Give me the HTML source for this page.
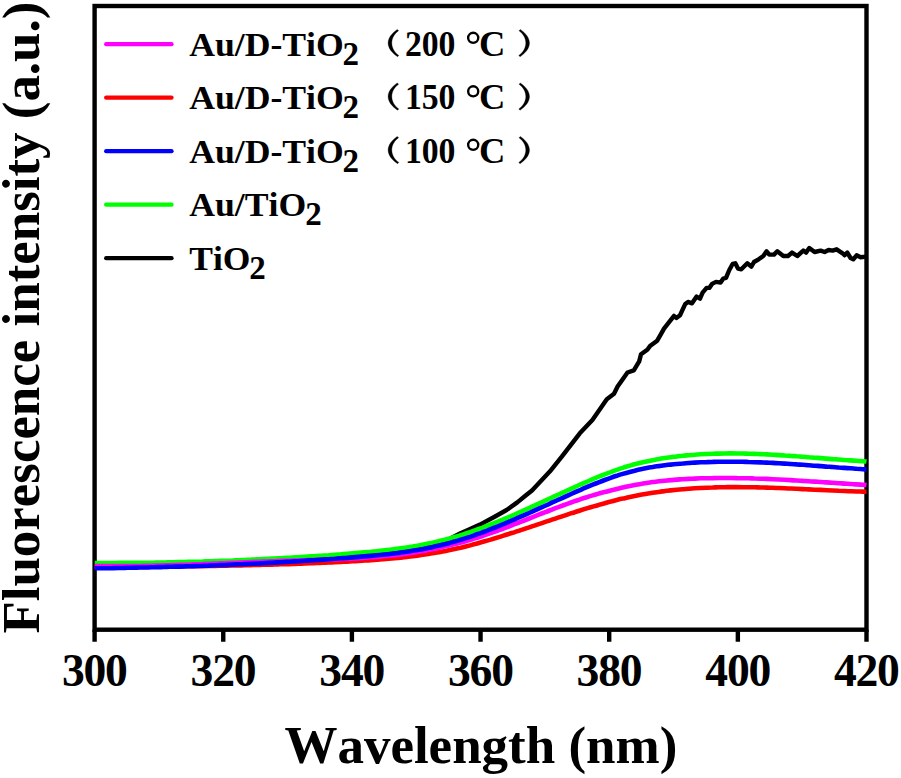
<!DOCTYPE html>
<html>
<head>
<meta charset="utf-8">
<title>Fluorescence spectra</title>
<style>
html,body{margin:0;padding:0;background:#fff;}
body{width:901px;height:778px;overflow:hidden;font-family:"Liberation Serif",serif;}
svg{display:block;position:absolute;left:0;top:0;}
text{font-family:"Liberation Serif",serif;font-weight:bold;fill:#000;font-kerning:none;}
.c{fill:none;stroke-width:4.6;stroke-linejoin:round;stroke-linecap:butt;}
.lg{fill:none;stroke-width:4.3;stroke-linecap:round;}
.ax{fill:none;stroke:#000;stroke-width:4.4;}
.leg{font-size:34.5px;}
.tick{font-size:45.6px;text-anchor:middle;letter-spacing:-1.2px;}
.par{fill:none;stroke:#000;stroke-width:1.9;stroke-linecap:round;}
</style>
</head>
<body>
<svg width="901" height="778" viewBox="0 0 901 778">
<rect x="0" y="0" width="901" height="778" fill="#fff"/>
<!-- frame -->
<rect class="ax" x="94.6" y="6" width="771.9" height="623.7"/>
<!-- ticks -->
<g class="ax">
<path d="M94.6 629.7V641.8M223.25 629.7V641.8M351.9 629.7V641.8M480.55 629.7V641.8M609.2 629.7V641.8M737.85 629.7V641.8M866.5 629.7V641.8"/>
</g>
<!-- curves -->
<path class="c" stroke="#000000" style="stroke-width:4.4" d="M94.7 566.5 C110.6 566.2 157.4 566.0 190.0 565.0 C222.6 564.0 263.3 562.0 290.0 560.5 C316.7 559.0 330.0 557.9 350.0 556.0 C370.0 554.1 395.0 551.2 410.0 549.0 C425.0 546.8 431.7 545.4 440.0 542.8 C448.3 540.2 453.3 536.6 460.0 533.6 C466.7 530.6 476.7 526.1 480.0 524.6 L496.0 516.0 L506.6 510.0 L517.3 502.4 L526.0 495.3 L532.0 490.5 L550.0 471.3 L561.8 456.7 L579.8 433.3 L592.4 419.9 L606.8 399.2 L614.0 393.8 L617.6 386.6 L627.5 372.5 L633.8 370.4 L639.2 361.4 L641.0 354.2 L647.3 349.7 L650.0 346.1 L657.2 340.7 L660.8 334.4 L664.0 328.6 L669.3 321.9 L674.0 315.9 L676.6 317.9 L680.0 315.2 L685.3 303.9 L688.0 301.9 L692.0 303.3 L696.6 296.6 L700.0 298.6 L702.6 292.6 L706.6 287.9 L709.3 287.9 L712.0 283.9 L716.0 281.9 L720.6 282.6 L723.3 278.6 L726.0 277.9 L729.3 270.0 L732.6 264.0 L735.3 263.3 L738.0 268.6 L741.3 269.3 L747.3 263.3 L751.3 266.6 L754.0 262.0 L758.6 259.3 L763.3 256.0 L766.6 251.3 L769.3 254.6 L774.0 254.6 L777.3 251.3 L783.3 256.0 L788.0 256.0 L792.0 252.6 L797.3 256.0 L803.3 250.6 L806.0 252.6 L809.3 248.0 L814.6 252.0 L820.6 250.6 L824.6 252.0 L828.6 250.0 L832.6 250.6 L836.6 249.3 L842.6 253.3 L844.6 255.3 L847.3 252.6 L850.6 258.0 L853.3 259.3 L856.6 255.3 L860.6 257.3 L866.5 256.6"/>
<path class="c" stroke="#00ff00" d="M94.7 563.0 C95.7 563.0 98.7 563.0 100.7 563.0 C102.7 563.0 104.7 563.0 106.7 563.0 C108.7 563.0 110.7 563.0 112.7 563.0 C114.7 563.0 116.7 562.9 118.7 562.9 C120.7 562.9 122.7 562.9 124.7 562.9 C126.7 562.9 128.7 562.9 130.7 562.9 C132.7 562.8 134.7 562.8 136.7 562.8 C138.7 562.8 140.7 562.8 142.7 562.7 C144.7 562.7 146.7 562.7 148.7 562.7 C150.7 562.6 152.7 562.6 154.7 562.6 C156.7 562.5 158.7 562.5 160.7 562.5 C162.7 562.4 164.7 562.4 166.7 562.4 C168.7 562.3 170.7 562.3 172.7 562.2 C174.7 562.2 176.7 562.2 178.7 562.1 C180.7 562.1 182.7 562.0 184.7 562.0 C186.7 561.9 188.7 561.9 190.7 561.8 C192.7 561.8 194.7 561.7 196.7 561.7 C198.7 561.6 200.7 561.5 202.7 561.5 C204.7 561.4 206.7 561.4 208.7 561.3 C210.7 561.2 212.7 561.2 214.7 561.1 C216.7 561.0 218.7 561.0 220.7 560.9 C222.7 560.8 224.7 560.8 226.7 560.7 C228.7 560.6 230.7 560.5 232.7 560.5 C234.7 560.4 236.7 560.3 238.7 560.2 C240.7 560.1 242.7 560.1 244.7 560.0 C246.7 559.9 248.7 559.8 250.7 559.7 C252.7 559.6 254.7 559.5 256.7 559.4 C258.7 559.3 260.7 559.2 262.7 559.1 C264.7 559.0 266.7 558.9 268.7 558.8 C270.7 558.7 272.7 558.6 274.7 558.5 C276.7 558.4 278.7 558.3 280.7 558.2 C282.7 558.1 284.7 558.0 286.7 557.9 C288.7 557.8 290.7 557.6 292.7 557.5 C294.7 557.4 296.7 557.3 298.7 557.2 C300.7 557.0 302.7 556.9 304.7 556.8 C306.7 556.7 308.7 556.5 310.7 556.4 C312.7 556.3 314.7 556.1 316.7 556.0 C318.7 555.9 320.7 555.7 322.7 555.6 C324.7 555.4 326.7 555.3 328.7 555.2 C330.7 555.0 332.7 554.9 334.7 554.7 C336.7 554.6 338.7 554.4 340.7 554.3 C342.7 554.1 344.7 554.0 346.7 553.8 C348.7 553.6 350.7 553.5 352.7 553.3 C354.7 553.2 356.7 553.0 358.7 552.8 C360.7 552.7 362.7 552.5 364.7 552.3 C366.7 552.1 368.7 551.9 370.7 551.8 C372.7 551.6 374.7 551.4 376.7 551.2 C378.7 551.0 380.7 550.8 382.7 550.5 C384.7 550.3 386.7 550.1 388.7 549.9 C390.7 549.6 392.7 549.4 394.7 549.1 C396.7 548.9 398.7 548.6 400.7 548.3 C402.7 548.0 404.7 547.7 406.7 547.4 C408.7 547.1 410.7 546.8 412.7 546.5 C414.7 546.1 416.7 545.8 418.7 545.4 C420.7 545.1 422.7 544.7 424.7 544.3 C426.7 543.9 428.7 543.5 430.7 543.1 C432.7 542.6 434.7 542.2 436.7 541.7 C438.7 541.3 440.7 540.8 442.7 540.3 C444.7 539.8 446.7 539.2 448.7 538.7 C450.7 538.2 452.7 537.6 454.7 537.0 C456.7 536.4 458.7 535.8 460.7 535.2 C462.7 534.6 464.7 533.9 466.7 533.2 C468.7 532.6 470.7 531.9 472.7 531.2 C474.7 530.5 476.7 529.8 478.7 529.0 C480.7 528.3 482.7 527.6 484.7 526.8 C486.7 526.1 488.7 525.3 490.7 524.5 C492.7 523.7 494.7 522.9 496.7 522.1 C498.7 521.3 500.7 520.4 502.7 519.6 C504.7 518.8 506.7 517.9 508.7 517.1 C510.7 516.2 512.7 515.4 514.7 514.5 C516.7 513.6 518.7 512.7 520.7 511.8 C522.7 511.0 524.7 510.1 526.7 509.2 C528.7 508.3 530.7 507.3 532.7 506.4 C534.7 505.5 536.7 504.6 538.7 503.7 C540.7 502.8 542.7 501.9 544.7 500.9 C546.7 500.0 548.7 499.1 550.7 498.2 C552.7 497.2 554.7 496.3 556.7 495.4 C558.7 494.5 560.7 493.5 562.7 492.6 C564.7 491.7 566.7 490.8 568.7 489.8 C570.7 488.9 572.7 488.0 574.7 487.1 C576.7 486.2 578.7 485.3 580.7 484.4 C582.7 483.5 584.7 482.6 586.7 481.8 C588.7 480.9 590.7 480.1 592.7 479.2 C594.7 478.4 596.7 477.5 598.7 476.7 C600.7 475.9 602.7 475.1 604.7 474.3 C606.7 473.6 608.7 472.8 610.7 472.1 C612.7 471.3 614.7 470.6 616.7 469.9 C618.7 469.2 620.7 468.5 622.7 467.9 C624.7 467.2 626.7 466.6 628.7 466.0 C630.7 465.4 632.7 464.9 634.7 464.3 C636.7 463.8 638.7 463.3 640.7 462.8 C642.7 462.3 644.7 461.9 646.7 461.4 C648.7 461.0 650.7 460.6 652.7 460.2 C654.7 459.8 656.7 459.4 658.7 459.1 C660.7 458.7 662.7 458.4 664.7 458.1 C666.7 457.8 668.7 457.5 670.7 457.2 C672.7 456.9 674.7 456.7 676.7 456.4 C678.7 456.2 680.7 456.0 682.7 455.8 C684.7 455.5 686.7 455.4 688.7 455.2 C690.7 455.0 692.7 454.8 694.7 454.7 C696.7 454.5 698.7 454.4 700.7 454.3 C702.7 454.2 704.7 454.1 706.7 454.0 C708.7 453.9 710.7 453.8 712.7 453.7 C714.7 453.7 716.7 453.6 718.7 453.6 C720.7 453.5 722.7 453.5 724.7 453.5 C726.7 453.4 728.7 453.4 730.7 453.4 C732.7 453.4 734.7 453.4 736.7 453.5 C738.7 453.5 740.7 453.5 742.7 453.5 C744.7 453.6 746.7 453.6 748.7 453.7 C750.7 453.7 752.7 453.8 754.7 453.9 C756.7 454.0 758.7 454.0 760.7 454.1 C762.7 454.2 764.7 454.3 766.7 454.4 C768.7 454.5 770.7 454.6 772.7 454.7 C774.7 454.8 776.7 455.0 778.7 455.1 C780.7 455.2 782.7 455.3 784.7 455.5 C786.7 455.6 788.7 455.7 790.7 455.9 C792.7 456.0 794.7 456.1 796.7 456.3 C798.7 456.4 800.7 456.6 802.7 456.7 C804.7 456.9 806.7 457.0 808.7 457.2 C810.7 457.3 812.7 457.5 814.7 457.7 C816.7 457.8 818.7 458.0 820.7 458.1 C822.7 458.3 824.7 458.4 826.7 458.6 C828.7 458.8 830.7 458.9 832.7 459.1 C834.7 459.2 836.7 459.4 838.7 459.5 C840.7 459.7 842.7 459.8 844.7 460.0 C846.7 460.1 848.7 460.3 850.7 460.4 C852.7 460.6 854.7 460.7 856.7 460.8 C858.7 461.0 861.1 461.1 862.7 461.2 C864.3 461.3 865.9 461.4 866.5 461.5"/>
<path class="c" stroke="#ff0000" d="M94.7 567.5 C95.7 567.5 98.7 567.5 100.7 567.4 C102.7 567.4 104.7 567.4 106.7 567.3 C108.7 567.3 110.7 567.3 112.7 567.3 C114.7 567.2 116.7 567.2 118.7 567.2 C120.7 567.2 122.7 567.1 124.7 567.1 C126.7 567.1 128.7 567.0 130.7 567.0 C132.7 567.0 134.7 567.0 136.7 566.9 C138.7 566.9 140.7 566.9 142.7 566.9 C144.7 566.8 146.7 566.8 148.7 566.8 C150.7 566.8 152.7 566.7 154.7 566.7 C156.7 566.7 158.7 566.7 160.7 566.6 C162.7 566.6 164.7 566.6 166.7 566.6 C168.7 566.5 170.7 566.5 172.7 566.5 C174.7 566.5 176.7 566.4 178.7 566.4 C180.7 566.4 182.7 566.4 184.7 566.3 C186.7 566.3 188.7 566.3 190.7 566.2 C192.7 566.2 194.7 566.2 196.7 566.2 C198.7 566.1 200.7 566.1 202.7 566.1 C204.7 566.0 206.7 566.0 208.7 566.0 C210.7 565.9 212.7 565.9 214.7 565.9 C216.7 565.8 218.7 565.8 220.7 565.8 C222.7 565.7 224.7 565.7 226.7 565.6 C228.7 565.6 230.7 565.6 232.7 565.5 C234.7 565.5 236.7 565.4 238.7 565.4 C240.7 565.4 242.7 565.3 244.7 565.3 C246.7 565.2 248.7 565.2 250.7 565.1 C252.7 565.1 254.7 565.0 256.7 565.0 C258.7 564.9 260.7 564.9 262.7 564.8 C264.7 564.8 266.7 564.7 268.7 564.7 C270.7 564.6 272.7 564.6 274.7 564.5 C276.7 564.4 278.7 564.4 280.7 564.3 C282.7 564.3 284.7 564.2 286.7 564.1 C288.7 564.1 290.7 564.0 292.7 563.9 C294.7 563.9 296.7 563.8 298.7 563.7 C300.7 563.6 302.7 563.6 304.7 563.5 C306.7 563.4 308.7 563.3 310.7 563.3 C312.7 563.2 314.7 563.1 316.7 563.0 C318.7 562.9 320.7 562.8 322.7 562.7 C324.7 562.7 326.7 562.6 328.7 562.5 C330.7 562.4 332.7 562.3 334.7 562.2 C336.7 562.1 338.7 562.0 340.7 561.9 C342.7 561.8 344.7 561.7 346.7 561.6 C348.7 561.5 350.7 561.4 352.7 561.3 C354.7 561.1 356.7 561.0 358.7 560.9 C360.7 560.8 362.7 560.7 364.7 560.5 C366.7 560.4 368.7 560.3 370.7 560.1 C372.7 560.0 374.7 559.9 376.7 559.7 C378.7 559.6 380.7 559.4 382.7 559.3 C384.7 559.1 386.7 558.9 388.7 558.8 C390.7 558.6 392.7 558.4 394.7 558.2 C396.7 558.0 398.7 557.8 400.7 557.6 C402.7 557.4 404.7 557.2 406.7 556.9 C408.7 556.7 410.7 556.5 412.7 556.2 C414.7 556.0 416.7 555.7 418.7 555.4 C420.7 555.2 422.7 554.9 424.7 554.6 C426.7 554.3 428.7 554.0 430.7 553.6 C432.7 553.3 434.7 553.0 436.7 552.6 C438.7 552.3 440.7 551.9 442.7 551.5 C444.7 551.1 446.7 550.7 448.7 550.3 C450.7 549.9 452.7 549.5 454.7 549.0 C456.7 548.6 458.7 548.1 460.7 547.7 C462.7 547.2 464.7 546.7 466.7 546.2 C468.7 545.7 470.7 545.2 472.7 544.6 C474.7 544.1 476.7 543.6 478.7 543.0 C480.7 542.5 482.7 541.9 484.7 541.3 C486.7 540.8 488.7 540.2 490.7 539.6 C492.7 539.0 494.7 538.4 496.7 537.8 C498.7 537.2 500.7 536.5 502.7 535.9 C504.7 535.3 506.7 534.7 508.7 534.0 C510.7 533.4 512.7 532.7 514.7 532.1 C516.7 531.4 518.7 530.8 520.7 530.1 C522.7 529.5 524.7 528.8 526.7 528.1 C528.7 527.5 530.7 526.8 532.7 526.1 C534.7 525.5 536.7 524.8 538.7 524.1 C540.7 523.5 542.7 522.8 544.7 522.1 C546.7 521.4 548.7 520.8 550.7 520.1 C552.7 519.4 554.7 518.8 556.7 518.1 C558.7 517.4 560.7 516.8 562.7 516.1 C564.7 515.5 566.7 514.8 568.7 514.1 C570.7 513.5 572.7 512.8 574.7 512.2 C576.7 511.6 578.7 510.9 580.7 510.3 C582.7 509.7 584.7 509.1 586.7 508.4 C588.7 507.8 590.7 507.2 592.7 506.6 C594.7 506.0 596.7 505.4 598.7 504.9 C600.7 504.3 602.7 503.7 604.7 503.2 C606.7 502.6 608.7 502.1 610.7 501.6 C612.7 501.0 614.7 500.5 616.7 500.0 C618.7 499.5 620.7 499.0 622.7 498.6 C624.7 498.1 626.7 497.7 628.7 497.2 C630.7 496.8 632.7 496.4 634.7 496.0 C636.7 495.6 638.7 495.2 640.7 494.8 C642.7 494.4 644.7 494.1 646.7 493.7 C648.7 493.4 650.7 493.1 652.7 492.8 C654.7 492.5 656.7 492.2 658.7 491.9 C660.7 491.6 662.7 491.3 664.7 491.1 C666.7 490.8 668.7 490.6 670.7 490.4 C672.7 490.2 674.7 490.0 676.7 489.8 C678.7 489.6 680.7 489.4 682.7 489.2 C684.7 489.0 686.7 488.9 688.7 488.7 C690.7 488.6 692.7 488.4 694.7 488.3 C696.7 488.2 698.7 488.1 700.7 488.0 C702.7 487.9 704.7 487.8 706.7 487.7 C708.7 487.6 710.7 487.5 712.7 487.5 C714.7 487.4 716.7 487.4 718.7 487.3 C720.7 487.3 722.7 487.2 724.7 487.2 C726.7 487.2 728.7 487.1 730.7 487.1 C732.7 487.1 734.7 487.1 736.7 487.1 C738.7 487.1 740.7 487.1 742.7 487.2 C744.7 487.2 746.7 487.2 748.7 487.2 C750.7 487.3 752.7 487.3 754.7 487.3 C756.7 487.4 758.7 487.4 760.7 487.5 C762.7 487.5 764.7 487.6 766.7 487.6 C768.7 487.7 770.7 487.8 772.7 487.8 C774.7 487.9 776.7 488.0 778.7 488.0 C780.7 488.1 782.7 488.2 784.7 488.3 C786.7 488.4 788.7 488.5 790.7 488.5 C792.7 488.6 794.7 488.7 796.7 488.8 C798.7 488.9 800.7 489.0 802.7 489.1 C804.7 489.2 806.7 489.3 808.7 489.4 C810.7 489.5 812.7 489.6 814.7 489.7 C816.7 489.7 818.7 489.8 820.7 489.9 C822.7 490.0 824.7 490.1 826.7 490.2 C828.7 490.3 830.7 490.4 832.7 490.5 C834.7 490.6 836.7 490.7 838.7 490.8 C840.7 490.8 842.7 490.9 844.7 491.0 C846.7 491.1 848.7 491.2 850.7 491.2 C852.7 491.3 854.7 491.4 856.7 491.5 C858.7 491.5 861.1 491.6 862.7 491.6 C864.3 491.7 865.9 491.7 866.5 491.7"/>
<path class="c" stroke="#ff00ff" d="M94.7 566.0 C95.7 566.0 98.7 566.1 100.7 566.1 C102.7 566.1 104.7 566.1 106.7 566.1 C108.7 566.1 110.7 566.1 112.7 566.1 C114.7 566.1 116.7 566.1 118.7 566.1 C120.7 566.1 122.7 566.1 124.7 566.1 C126.7 566.1 128.7 566.1 130.7 566.1 C132.7 566.0 134.7 566.0 136.7 566.0 C138.7 565.9 140.7 565.9 142.7 565.9 C144.7 565.8 146.7 565.8 148.7 565.8 C150.7 565.7 152.7 565.7 154.7 565.6 C156.7 565.6 158.7 565.5 160.7 565.5 C162.7 565.4 164.7 565.4 166.7 565.3 C168.7 565.3 170.7 565.2 172.7 565.1 C174.7 565.1 176.7 565.0 178.7 564.9 C180.7 564.9 182.7 564.8 184.7 564.7 C186.7 564.7 188.7 564.6 190.7 564.5 C192.7 564.4 194.7 564.4 196.7 564.3 C198.7 564.2 200.7 564.1 202.7 564.1 C204.7 564.0 206.7 563.9 208.7 563.8 C210.7 563.7 212.7 563.7 214.7 563.6 C216.7 563.5 218.7 563.4 220.7 563.3 C222.7 563.2 224.7 563.2 226.7 563.1 C228.7 563.0 230.7 562.9 232.7 562.8 C234.7 562.7 236.7 562.7 238.7 562.6 C240.7 562.5 242.7 562.4 244.7 562.3 C246.7 562.2 248.7 562.2 250.7 562.1 C252.7 562.0 254.7 561.9 256.7 561.8 C258.7 561.8 260.7 561.7 262.7 561.6 C264.7 561.5 266.7 561.4 268.7 561.4 C270.7 561.3 272.7 561.2 274.7 561.2 C276.7 561.1 278.7 561.0 280.7 560.9 C282.7 560.9 284.7 560.8 286.7 560.7 C288.7 560.7 290.7 560.6 292.7 560.5 C294.7 560.5 296.7 560.4 298.7 560.4 C300.7 560.3 302.7 560.3 304.7 560.2 C306.7 560.1 308.7 560.1 310.7 560.0 C312.7 560.0 314.7 559.9 316.7 559.8 C318.7 559.8 320.7 559.7 322.7 559.7 C324.7 559.6 326.7 559.5 328.7 559.5 C330.7 559.4 332.7 559.3 334.7 559.3 C336.7 559.2 338.7 559.1 340.7 559.0 C342.7 558.9 344.7 558.8 346.7 558.8 C348.7 558.7 350.7 558.6 352.7 558.5 C354.7 558.3 356.7 558.2 358.7 558.1 C360.7 558.0 362.7 557.9 364.7 557.7 C366.7 557.6 368.7 557.5 370.7 557.3 C372.7 557.2 374.7 557.0 376.7 556.9 C378.7 556.7 380.7 556.5 382.7 556.3 C384.7 556.1 386.7 555.9 388.7 555.7 C390.7 555.5 392.7 555.3 394.7 555.1 C396.7 554.9 398.7 554.6 400.7 554.4 C402.7 554.1 404.7 553.8 406.7 553.6 C408.7 553.3 410.7 553.0 412.7 552.7 C414.7 552.4 416.7 552.1 418.7 551.7 C420.7 551.4 422.7 551.0 424.7 550.7 C426.7 550.3 428.7 549.9 430.7 549.5 C432.7 549.1 434.7 548.7 436.7 548.3 C438.7 547.9 440.7 547.5 442.7 547.0 C444.7 546.6 446.7 546.1 448.7 545.6 C450.7 545.1 452.7 544.6 454.7 544.1 C456.7 543.6 458.7 543.1 460.7 542.5 C462.7 542.0 464.7 541.4 466.7 540.9 C468.7 540.3 470.7 539.7 472.7 539.1 C474.7 538.5 476.7 537.8 478.7 537.2 C480.7 536.5 482.7 535.9 484.7 535.2 C486.7 534.5 488.7 533.8 490.7 533.1 C492.7 532.4 494.7 531.7 496.7 531.0 C498.7 530.3 500.7 529.5 502.7 528.8 C504.7 528.0 506.7 527.3 508.7 526.5 C510.7 525.7 512.7 525.0 514.7 524.2 C516.7 523.4 518.7 522.6 520.7 521.8 C522.7 521.0 524.7 520.2 526.7 519.5 C528.7 518.7 530.7 517.9 532.7 517.1 C534.7 516.3 536.7 515.5 538.7 514.7 C540.7 513.9 542.7 513.1 544.7 512.3 C546.7 511.6 548.7 510.8 550.7 510.0 C552.7 509.2 554.7 508.5 556.7 507.7 C558.7 507.0 560.7 506.2 562.7 505.5 C564.7 504.7 566.7 504.0 568.7 503.3 C570.7 502.6 572.7 501.9 574.7 501.2 C576.7 500.5 578.7 499.9 580.7 499.2 C582.7 498.5 584.7 497.9 586.7 497.3 C588.7 496.6 590.7 496.0 592.7 495.4 C594.7 494.8 596.7 494.2 598.7 493.6 C600.7 493.1 602.7 492.5 604.7 492.0 C606.7 491.4 608.7 490.9 610.7 490.4 C612.7 489.9 614.7 489.4 616.7 488.9 C618.7 488.4 620.7 488.0 622.7 487.5 C624.7 487.1 626.7 486.6 628.7 486.2 C630.7 485.8 632.7 485.4 634.7 485.0 C636.7 484.7 638.7 484.3 640.7 484.0 C642.7 483.6 644.7 483.3 646.7 483.0 C648.7 482.7 650.7 482.4 652.7 482.1 C654.7 481.8 656.7 481.6 658.7 481.3 C660.7 481.1 662.7 480.9 664.7 480.7 C666.7 480.5 668.7 480.3 670.7 480.1 C672.7 479.9 674.7 479.8 676.7 479.6 C678.7 479.5 680.7 479.3 682.7 479.2 C684.7 479.1 686.7 479.0 688.7 478.9 C690.7 478.8 692.7 478.7 694.7 478.6 C696.7 478.5 698.7 478.4 700.7 478.3 C702.7 478.3 704.7 478.2 706.7 478.2 C708.7 478.1 710.7 478.1 712.7 478.1 C714.7 478.0 716.7 478.0 718.7 478.0 C720.7 478.0 722.7 478.0 724.7 478.0 C726.7 478.0 728.7 478.0 730.7 478.0 C732.7 478.0 734.7 478.0 736.7 478.1 C738.7 478.1 740.7 478.1 742.7 478.2 C744.7 478.2 746.7 478.3 748.7 478.3 C750.7 478.4 752.7 478.4 754.7 478.5 C756.7 478.5 758.7 478.6 760.7 478.7 C762.7 478.8 764.7 478.8 766.7 478.9 C768.7 479.0 770.7 479.1 772.7 479.2 C774.7 479.3 776.7 479.4 778.7 479.5 C780.7 479.6 782.7 479.7 784.7 479.8 C786.7 479.9 788.7 480.0 790.7 480.1 C792.7 480.3 794.7 480.4 796.7 480.5 C798.7 480.6 800.7 480.7 802.7 480.9 C804.7 481.0 806.7 481.1 808.7 481.2 C810.7 481.4 812.7 481.5 814.7 481.6 C816.7 481.7 818.7 481.9 820.7 482.0 C822.7 482.1 824.7 482.3 826.7 482.4 C828.7 482.5 830.7 482.7 832.7 482.8 C834.7 482.9 836.7 483.1 838.7 483.2 C840.7 483.3 842.7 483.5 844.7 483.6 C846.7 483.7 848.7 483.9 850.7 484.0 C852.7 484.1 854.7 484.3 856.7 484.4 C858.7 484.5 861.1 484.7 862.7 484.8 C864.3 484.9 865.9 484.9 866.5 485.0"/>
<path class="c" stroke="#0000ff" d="M94.7 568.3 C95.7 568.3 98.7 568.3 100.7 568.2 C102.7 568.2 104.7 568.2 106.7 568.2 C108.7 568.1 110.7 568.1 112.7 568.1 C114.7 568.0 116.7 568.0 118.7 568.0 C120.7 567.9 122.7 567.9 124.7 567.9 C126.7 567.8 128.7 567.8 130.7 567.7 C132.7 567.7 134.7 567.7 136.7 567.6 C138.7 567.6 140.7 567.5 142.7 567.5 C144.7 567.4 146.7 567.4 148.7 567.4 C150.7 567.3 152.7 567.3 154.7 567.2 C156.7 567.2 158.7 567.1 160.7 567.1 C162.7 567.0 164.7 567.0 166.7 566.9 C168.7 566.8 170.7 566.8 172.7 566.7 C174.7 566.7 176.7 566.6 178.7 566.6 C180.7 566.5 182.7 566.4 184.7 566.4 C186.7 566.3 188.7 566.3 190.7 566.2 C192.7 566.1 194.7 566.1 196.7 566.0 C198.7 565.9 200.7 565.8 202.7 565.8 C204.7 565.7 206.7 565.6 208.7 565.6 C210.7 565.5 212.7 565.4 214.7 565.3 C216.7 565.3 218.7 565.2 220.7 565.1 C222.7 565.0 224.7 564.9 226.7 564.9 C228.7 564.8 230.7 564.7 232.7 564.6 C234.7 564.5 236.7 564.4 238.7 564.3 C240.7 564.3 242.7 564.2 244.7 564.1 C246.7 564.0 248.7 563.9 250.7 563.8 C252.7 563.7 254.7 563.6 256.7 563.5 C258.7 563.4 260.7 563.3 262.7 563.2 C264.7 563.1 266.7 563.0 268.7 562.9 C270.7 562.8 272.7 562.7 274.7 562.6 C276.7 562.5 278.7 562.3 280.7 562.2 C282.7 562.1 284.7 562.0 286.7 561.9 C288.7 561.8 290.7 561.7 292.7 561.5 C294.7 561.4 296.7 561.3 298.7 561.2 C300.7 561.1 302.7 560.9 304.7 560.8 C306.7 560.7 308.7 560.5 310.7 560.4 C312.7 560.3 314.7 560.2 316.7 560.0 C318.7 559.9 320.7 559.8 322.7 559.6 C324.7 559.5 326.7 559.3 328.7 559.2 C330.7 559.1 332.7 558.9 334.7 558.8 C336.7 558.6 338.7 558.5 340.7 558.3 C342.7 558.2 344.7 558.0 346.7 557.9 C348.7 557.7 350.7 557.6 352.7 557.4 C354.7 557.3 356.7 557.1 358.7 556.9 C360.7 556.8 362.7 556.6 364.7 556.4 C366.7 556.3 368.7 556.1 370.7 555.9 C372.7 555.7 374.7 555.5 376.7 555.3 C378.7 555.1 380.7 554.9 382.7 554.7 C384.7 554.5 386.7 554.3 388.7 554.1 C390.7 553.8 392.7 553.6 394.7 553.3 C396.7 553.1 398.7 552.8 400.7 552.6 C402.7 552.3 404.7 552.0 406.7 551.7 C408.7 551.4 410.7 551.1 412.7 550.8 C414.7 550.5 416.7 550.1 418.7 549.8 C420.7 549.4 422.7 549.0 424.7 548.7 C426.7 548.3 428.7 547.9 430.7 547.5 C432.7 547.0 434.7 546.6 436.7 546.1 C438.7 545.7 440.7 545.2 442.7 544.7 C444.7 544.2 446.7 543.7 448.7 543.2 C450.7 542.6 452.7 542.1 454.7 541.5 C456.7 540.9 458.7 540.3 460.7 539.7 C462.7 539.1 464.7 538.5 466.7 537.8 C468.7 537.2 470.7 536.5 472.7 535.8 C474.7 535.1 476.7 534.4 478.7 533.7 C480.7 533.0 482.7 532.2 484.7 531.5 C486.7 530.7 488.7 530.0 490.7 529.2 C492.7 528.4 494.7 527.6 496.7 526.8 C498.7 526.0 500.7 525.2 502.7 524.4 C504.7 523.6 506.7 522.7 508.7 521.9 C510.7 521.0 512.7 520.2 514.7 519.3 C516.7 518.5 518.7 517.6 520.7 516.7 C522.7 515.8 524.7 515.0 526.7 514.1 C528.7 513.2 530.7 512.3 532.7 511.4 C534.7 510.5 536.7 509.6 538.7 508.7 C540.7 507.8 542.7 506.9 544.7 506.0 C546.7 505.1 548.7 504.2 550.7 503.2 C552.7 502.3 554.7 501.4 556.7 500.5 C558.7 499.6 560.7 498.7 562.7 497.8 C564.7 496.9 566.7 496.0 568.7 495.1 C570.7 494.2 572.7 493.3 574.7 492.4 C576.7 491.5 578.7 490.6 580.7 489.8 C582.7 488.9 584.7 488.0 586.7 487.2 C588.7 486.3 590.7 485.5 592.7 484.7 C594.7 483.9 596.7 483.1 598.7 482.3 C600.7 481.5 602.7 480.7 604.7 480.0 C606.7 479.2 608.7 478.5 610.7 477.8 C612.7 477.1 614.7 476.4 616.7 475.8 C618.7 475.1 620.7 474.5 622.7 473.9 C624.7 473.3 626.7 472.7 628.7 472.2 C630.7 471.6 632.7 471.1 634.7 470.7 C636.7 470.2 638.7 469.7 640.7 469.3 C642.7 468.9 644.7 468.5 646.7 468.1 C648.7 467.7 650.7 467.4 652.7 467.1 C654.7 466.7 656.7 466.4 658.7 466.1 C660.7 465.9 662.7 465.6 664.7 465.3 C666.7 465.1 668.7 464.9 670.7 464.6 C672.7 464.4 674.7 464.2 676.7 464.0 C678.7 463.8 680.7 463.6 682.7 463.5 C684.7 463.3 686.7 463.2 688.7 463.0 C690.7 462.9 692.7 462.7 694.7 462.6 C696.7 462.5 698.7 462.4 700.7 462.3 C702.7 462.2 704.7 462.1 706.7 462.1 C708.7 462.0 710.7 461.9 712.7 461.9 C714.7 461.8 716.7 461.8 718.7 461.8 C720.7 461.7 722.7 461.7 724.7 461.7 C726.7 461.7 728.7 461.7 730.7 461.7 C732.7 461.7 734.7 461.7 736.7 461.7 C738.7 461.8 740.7 461.8 742.7 461.8 C744.7 461.9 746.7 461.9 748.7 462.0 C750.7 462.0 752.7 462.1 754.7 462.2 C756.7 462.2 758.7 462.3 760.7 462.4 C762.7 462.5 764.7 462.6 766.7 462.6 C768.7 462.7 770.7 462.8 772.7 462.9 C774.7 463.0 776.7 463.2 778.7 463.3 C780.7 463.4 782.7 463.5 784.7 463.6 C786.7 463.7 788.7 463.9 790.7 464.0 C792.7 464.1 794.7 464.2 796.7 464.4 C798.7 464.5 800.7 464.7 802.7 464.8 C804.7 464.9 806.7 465.1 808.7 465.2 C810.7 465.4 812.7 465.5 814.7 465.7 C816.7 465.8 818.7 466.0 820.7 466.1 C822.7 466.3 824.7 466.4 826.7 466.6 C828.7 466.7 830.7 466.9 832.7 467.0 C834.7 467.2 836.7 467.3 838.7 467.5 C840.7 467.6 842.7 467.8 844.7 467.9 C846.7 468.1 848.7 468.2 850.7 468.3 C852.7 468.5 854.7 468.6 856.7 468.8 C858.7 468.9 861.1 469.1 862.7 469.2 C864.3 469.3 865.9 469.4 866.5 469.4"/>
<!-- legend lines -->
<path class="lg" stroke="#ff00ff" d="M106.2 44.2H171.5"/>
<path class="lg" stroke="#ff0000" d="M106.2 97.7H171.5"/>
<path class="lg" stroke="#0000ff" d="M106.2 151.2H171.5"/>
<path class="lg" stroke="#00ff00" d="M106.2 204.7H171.5"/>
<path class="lg" stroke="#000000" d="M106.2 258.2H171.5"/>
<!-- legend text -->
<g class="leg">
<text x="189.2" y="55.8" textLength="154.6" lengthAdjust="spacingAndGlyphs">Au/D-TiO</text><text x="342.6" y="64.8" font-size="33">2</text>
<text x="189.2" y="109.3" textLength="154.6" lengthAdjust="spacingAndGlyphs">Au/D-TiO</text><text x="342.6" y="118.3" font-size="33">2</text>
<text x="189.2" y="162.8" textLength="154.6" lengthAdjust="spacingAndGlyphs">Au/D-TiO</text><text x="342.6" y="171.8" font-size="33">2</text>
<text x="189.2" y="216.3" textLength="117" lengthAdjust="spacingAndGlyphs">Au/TiO</text><text x="305.2" y="225.3" font-size="33">2</text>
<text x="189.2" y="269.8" textLength="61.2" lengthAdjust="spacingAndGlyphs">TiO</text><text x="249.3" y="278.8" font-size="33">2</text>
<text x="404.9" font-size="36" textLength="50.6" lengthAdjust="spacingAndGlyphs" y="55.8">200</text><text x="478.9" y="55.8" font-size="36.5">C</text>
<text x="404.9" font-size="36" textLength="50.6" lengthAdjust="spacingAndGlyphs" y="109.3">150</text><text x="478.9" y="109.3" font-size="36.5">C</text>
<text x="404.9" font-size="36" textLength="50.6" lengthAdjust="spacingAndGlyphs" y="162.8">100</text><text x="478.9" y="162.8" font-size="36.5">C</text>
</g>
<g fill="none" stroke="#000" stroke-width="2.4">
<circle cx="473.2" cy="37.8" r="5.05"/>
<circle cx="473.2" cy="91.3" r="5.05"/>
<circle cx="473.2" cy="144.8" r="5.05"/>
</g>
<!-- fullwidth parens -->
<g fill="#000" stroke="#000" stroke-width="0.3" stroke-linejoin="round">
<path d="M397.3 29.4C391.8 33.2 388.1 38.0 388.1 43.0C388.1 48.2 392.0 53.0 397.6 56.7L398.8 55.4C394.6 52.4 391.8 48.0 391.8 43.0C391.8 38.2 394.4 33.8 398.6 30.7Z"/>
<path d="M520.3 29.4C525.8 33.2 529.5 38.0 529.5 43.0C529.5 48.2 525.6 53.0 520.0 56.7L518.8 55.4C523.0 52.4 525.8 48.0 525.8 43.0C525.8 38.2 523.2 33.8 519.0 30.7Z"/>
<path d="M397.3 82.9C391.8 86.7 388.1 91.5 388.1 96.5C388.1 101.7 392.0 106.5 397.6 110.2L398.8 108.9C394.6 105.9 391.8 101.5 391.8 96.5C391.8 91.7 394.4 87.3 398.6 84.2Z"/>
<path d="M520.3 82.9C525.8 86.7 529.5 91.5 529.5 96.5C529.5 101.7 525.6 106.5 520.0 110.2L518.8 108.9C523.0 105.9 525.8 101.5 525.8 96.5C525.8 91.7 523.2 87.3 519.0 84.2Z"/>
<path d="M397.3 136.4C391.8 140.2 388.1 145.0 388.1 150.0C388.1 155.2 392.0 160.0 397.6 163.7L398.8 162.4C394.6 159.4 391.8 155.0 391.8 150.0C391.8 145.2 394.4 140.8 398.6 137.7Z"/>
<path d="M520.3 136.4C525.8 140.2 529.5 145.0 529.5 150.0C529.5 155.2 525.6 160.0 520.0 163.7L518.8 162.4C523.0 159.4 525.8 155.0 525.8 150.0C525.8 145.2 523.2 140.8 519.0 137.7Z"/>
</g>
<!-- tick labels -->
<g class="tick">
<text x="94.3" y="685.5">300</text>
<text x="223" y="685.5">320</text>
<text x="351.7" y="685.5">340</text>
<text x="480.4" y="685.5">360</text>
<text x="609" y="685.5">380</text>
<text x="737.7" y="685.5">400</text>
<text x="866.3" y="685.5">420</text>
</g>
<!-- axis titles -->
<text x="284.4" y="762.8" font-size="52" textLength="393" lengthAdjust="spacingAndGlyphs">Wavelength (nm)</text>
<text transform="translate(39.2 633.6) rotate(-90)" x="0" y="0" font-size="52" textLength="632" lengthAdjust="spacingAndGlyphs">Fluorescence intensity (a.u.)</text>
</svg>
</body>
</html>
